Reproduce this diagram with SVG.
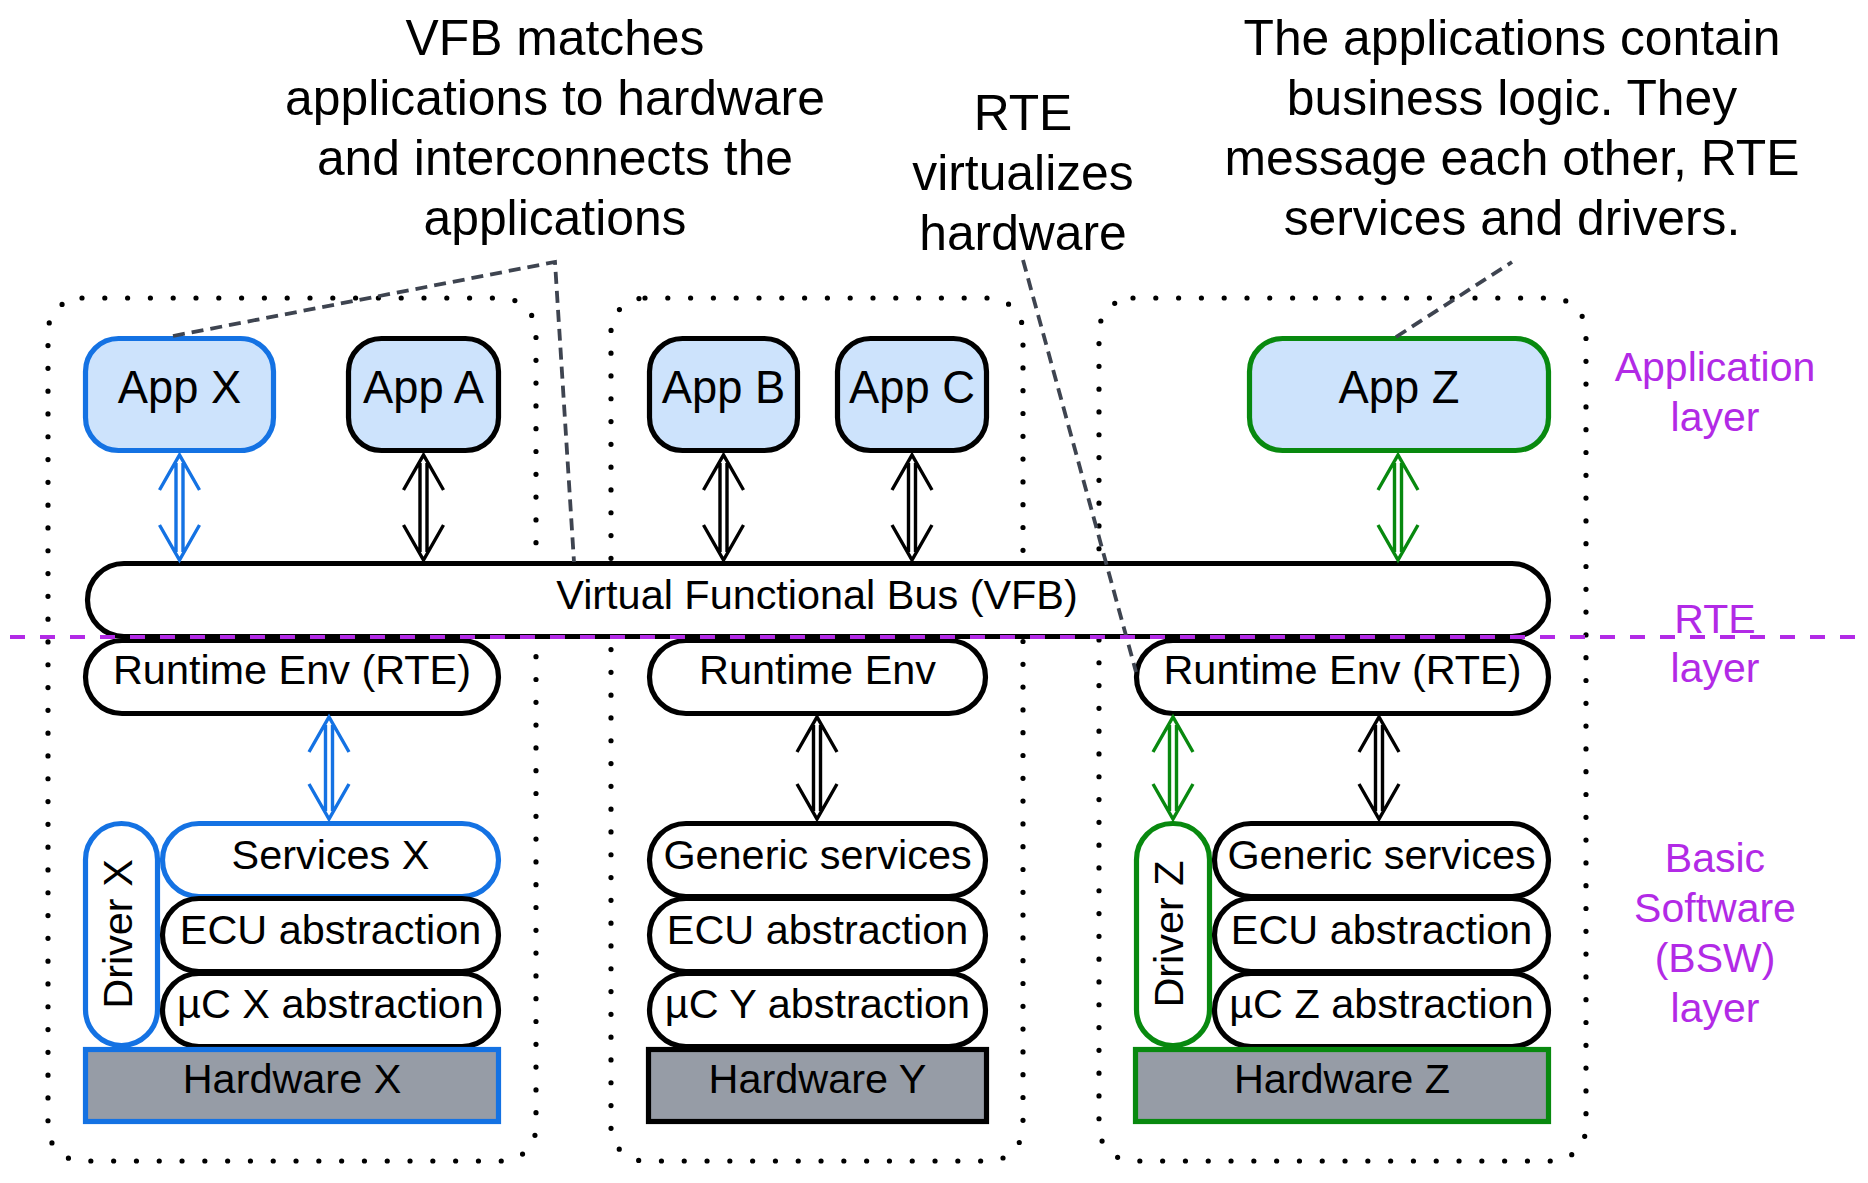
<svg xmlns="http://www.w3.org/2000/svg" width="1868" height="1183" viewBox="0 0 1868 1183">
<style>
.t{font-family:"Liberation Sans",Arial,sans-serif;fill:#000;text-anchor:middle}
.f41{font-size:41.4px}
.f45{font-size:45.3px}
.f50{font-size:49.8px}
.app{fill:#cde3fc;stroke-width:5.2}
.box{fill:#fff;stroke:#000;stroke-width:5.2}
.blue{stroke:#1472e3}
.green{stroke:#08890f}
.black{stroke:#000}
.hw{fill:#969ca6;stroke-width:5.2}
.cont{fill:none;stroke:#000;stroke-width:5.2;stroke-dasharray:0 22.8;stroke-linecap:round}
.arr{fill:none;stroke-width:3.4;stroke-linejoin:miter}
.note{fill:none;stroke:#3e4450;stroke-width:3.8;stroke-dasharray:12 7}
.lay{fill:#b22ae6;font-size:41px}
.sep{stroke:#b22ae6;stroke-width:4;stroke-dasharray:15 15}
</style>

<g id="containers">
  <rect class="cont" x="48" y="298" width="488" height="863" rx="34"/>
  <rect class="cont" x="611" y="298" width="412" height="863" rx="34"/>
  <rect class="cont" x="1099" y="298" width="487" height="863" rx="34"/>
</g>

<g id="annotations">
  <text class="t f50"><tspan x="555" y="55">VFB matches</tspan><tspan x="555" y="115">applications to hardware</tspan><tspan x="555" y="175">and interconnects the</tspan><tspan x="555" y="235">applications</tspan></text>
  <text class="t f50"><tspan x="1023" y="130">RTE</tspan><tspan x="1023" y="190">virtualizes</tspan><tspan x="1023" y="250">hardware</tspan></text>
  <text class="t f50"><tspan x="1512" y="55">The applications contain</tspan><tspan x="1512" y="115">business logic. They</tspan><tspan x="1512" y="175">message each other, RTE</tspan><tspan x="1512" y="235">services and drivers.</tspan></text>
</g>

<g id="app-x"><rect class="app blue" x="85.5" y="338.5" width="188" height="112" rx="33"/><text class="t f45" x="179.5" y="403">App X</text></g>
<g id="app-a"><rect class="app black" x="348.5" y="338.5" width="150" height="112" rx="33"/><text class="t f45" x="423.5" y="403">App A</text></g>
<g id="app-b"><rect class="app black" x="649.5" y="338.5" width="148" height="112" rx="33"/><text class="t f45" x="723.5" y="403">App B</text></g>
<g id="app-c"><rect class="app black" x="837.5" y="338.5" width="149" height="112" rx="33"/><text class="t f45" x="912" y="403">App C</text></g>
<g id="app-z"><rect class="app green" x="1249.5" y="338.5" width="299" height="112" rx="33"/><text class="t f45" x="1399" y="403">App Z</text></g>

<g id="vfb"><rect class="box" x="87.5" y="563.5" width="1461" height="73" rx="36.5"/><text class="t f41" x="817" y="609">Virtual Functional Bus (VFB)</text></g>

<g id="rte-x"><rect class="box" x="85.5" y="640.5" width="413" height="73" rx="36.5"/><text class="t f41" x="292" y="684">Runtime Env (RTE)</text></g>
<g id="rte-y"><rect class="box" x="649.5" y="640.5" width="336" height="73" rx="36.5"/><text class="t f41" x="817.5" y="684">Runtime Env</text></g>
<g id="rte-z"><rect class="box" x="1136.5" y="640.5" width="412" height="73" rx="36.5"/><text class="t f41" x="1342.5" y="684">Runtime Env (RTE)</text></g>

<g id="driver-x"><rect class="box blue" x="85.5" y="823.5" width="72" height="222" rx="36"/><text class="t f41" transform="translate(132 934) rotate(-90)" x="0" y="0">Driver X</text></g>
<g id="services-x"><rect class="box blue" x="162.5" y="823.5" width="336" height="73" rx="36.5"/><text class="t f41" x="330.5" y="868.5">Services X</text></g>
<g id="ecu-x"><rect class="box" x="162.5" y="898.5" width="336" height="73" rx="36.5"/><text class="t f41" x="330.5" y="943.5">ECU abstraction</text></g>
<g id="uc-x"><rect class="box" x="162.5" y="973.5" width="336" height="73" rx="36.5"/><text class="t f41" x="330.5" y="1018">µC X abstraction</text></g>
<g id="hw-x"><rect class="hw blue" x="85.5" y="1049.5" width="413" height="72"/><text class="t f41" x="292" y="1093">Hardware X</text></g>

<g id="generic-y"><rect class="box" x="649.5" y="823.5" width="336" height="73" rx="36.5"/><text class="t f41" x="817.5" y="868.5">Generic services</text></g>
<g id="ecu-y"><rect class="box" x="649.5" y="898.5" width="336" height="73" rx="36.5"/><text class="t f41" x="817.5" y="943.5">ECU abstraction</text></g>
<g id="uc-y"><rect class="box" x="649.5" y="973.5" width="336" height="73" rx="36.5"/><text class="t f41" x="817.5" y="1018">µC Y abstraction</text></g>
<g id="hw-y"><rect class="hw black" x="648.5" y="1049.5" width="338" height="72"/><text class="t f41" x="817.5" y="1093">Hardware Y</text></g>

<g id="driver-z"><rect class="box green" x="1136.5" y="823.5" width="73" height="222" rx="36"/><text class="t f41" transform="translate(1183 934) rotate(-90)" x="0" y="0">Driver Z</text></g>
<g id="generic-z"><rect class="box" x="1214.5" y="823.5" width="334" height="73" rx="36.5"/><text class="t f41" x="1381.5" y="868.5">Generic services</text></g>
<g id="ecu-z"><rect class="box" x="1214.5" y="898.5" width="334" height="73" rx="36.5"/><text class="t f41" x="1381.5" y="943.5">ECU abstraction</text></g>
<g id="uc-z"><rect class="box" x="1214.5" y="973.5" width="334" height="73" rx="36.5"/><text class="t f41" x="1381.5" y="1018">µC Z abstraction</text></g>
<g id="hw-z"><rect class="hw green" x="1135.5" y="1049.5" width="413" height="72"/><text class="t f41" x="1342" y="1093">Hardware Z</text></g>

<g id="connectors">
  <path class="arr blue" d="M159.5,490 L179.5,455 L199.5,490 M159.5,525 L179.5,560 L199.5,525 M176,463 V552 M183,463 V552"/>
  <path class="arr black" d="M403.5,490 L423.5,455 L443.5,490 M403.5,525 L423.5,560 L443.5,525 M420,463 V552 M427,463 V552"/>
  <path class="arr black" d="M703.5,490 L723.5,455 L743.5,490 M703.5,525 L723.5,560 L743.5,525 M720,463 V552 M727,463 V552"/>
  <path class="arr black" d="M892,490 L912,455 L932,490 M892,525 L912,560 L932,525 M908.5,463 V552 M915.5,463 V552"/>
  <path class="arr green" d="M1378,490 L1398,455 L1418,490 M1378,525 L1398,560 L1418,525 M1394.5,463 V552 M1401.5,463 V552"/>
  <path class="arr blue" d="M309,752 L329,717 L349,752 M309,784 L329,819 L349,784 M325.5,725 V811 M332.5,725 V811"/>
  <path class="arr black" d="M797,752 L817,717 L837,752 M797,784 L817,819 L837,784 M813.5,725 V811 M820.5,725 V811"/>
  <path class="arr green" d="M1153,752 L1173,717 L1193,752 M1153,784 L1173,819 L1193,784 M1169.5,725 V811 M1176.5,725 V811"/>
  <path class="arr black" d="M1359,752 L1379,717 L1399,752 M1359,784 L1379,819 L1399,784 M1375.5,725 V811 M1382.5,725 V811"/>
  <path class="note" d="M173,336 L555,262 L574,562"/>
  <path class="note" d="M1023,260 L1136,672"/>
  <path class="note" d="M1396,337 L1512,262"/>
</g>

<g id="layers">
  <line class="sep" x1="10" y1="637" x2="1868" y2="637"/>
  <text class="t lay"><tspan x="1715" y="381">Application</tspan><tspan x="1715" y="431">layer</tspan></text>
  <text class="t lay"><tspan x="1715" y="633">RTE</tspan><tspan x="1715" y="682">layer</tspan></text>
  <text class="t lay"><tspan x="1715" y="872">Basic</tspan><tspan x="1715" y="922">Software</tspan><tspan x="1715" y="972">(BSW)</tspan><tspan x="1715" y="1022">layer</tspan></text>
</g>
</svg>
